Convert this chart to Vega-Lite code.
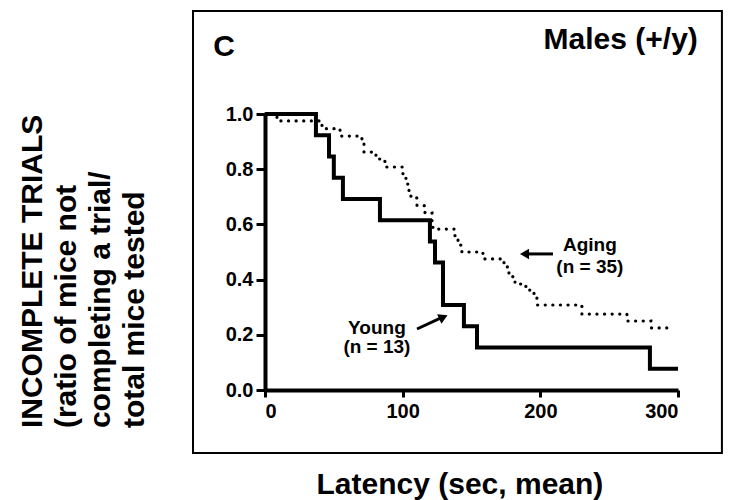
{
  "$schema": "https://vega.github.io/schema/vega-lite/v6.json",
  "padding": {"left": 18, "top": 10, "right": 0, "bottom": 0},
  "width": 413,
  "height": 276,
  "background": "white",
  "config": {
    "view": {"stroke": null},
    "text": {"font": "Liberation Sans", "fontWeight": "bold", "color": "black"}
  },
  "datasets": {
    "young": [
      {"x": 0, "y": 1}, {"x": 37, "y": 0.923}, {"x": 46.5, "y": 0.846}, {"x": 50, "y": 0.769},
      {"x": 56.6, "y": 0.692}, {"x": 83.5, "y": 0.615}, {"x": 119.8, "y": 0.538}, {"x": 123.5, "y": 0.462},
      {"x": 129.3, "y": 0.308}, {"x": 144.5, "y": 0.231}, {"x": 154, "y": 0.154}, {"x": 279.6, "y": 0.077},
      {"x": 300, "y": 0.077}
    ],
    "aging": [
      {"x": 0, "y": 1}, {"x": 8.7, "y": 0.975}, {"x": 41.4, "y": 0.947}, {"x": 54.5, "y": 0.92},
      {"x": 70.4, "y": 0.891}, {"x": 71.9, "y": 0.862}, {"x": 80.6, "y": 0.837}, {"x": 87.1, "y": 0.808},
      {"x": 100.2, "y": 0.775}, {"x": 102.4, "y": 0.746}, {"x": 104.6, "y": 0.721}, {"x": 106, "y": 0.696},
      {"x": 110.4, "y": 0.668}, {"x": 116.2, "y": 0.641}, {"x": 121.3, "y": 0.612}, {"x": 122, "y": 0.583},
      {"x": 138, "y": 0.554}, {"x": 140.2, "y": 0.525}, {"x": 143, "y": 0.5}, {"x": 158.3, "y": 0.475},
      {"x": 173.6, "y": 0.446}, {"x": 177.2, "y": 0.424}, {"x": 180, "y": 0.406}, {"x": 181.6, "y": 0.384},
      {"x": 189.5, "y": 0.362}, {"x": 195.4, "y": 0.337}, {"x": 197.5, "y": 0.308}, {"x": 230.2, "y": 0.275},
      {"x": 262.9, "y": 0.25}, {"x": 280.3, "y": 0.225}, {"x": 296, "y": 0.225}
    ]
  },
  "layer": [
    {"data": {"values": [{}]},
     "mark": {"type": "rect", "fill": null, "fillOpacity": 0, "stroke": "black", "strokeWidth": 2},
     "encoding": {"x": {"datum": -52.3, "type": "quantitative", "axis": {"title": null}}, "x2": {"datum": 331.9},
                  "y": {"datum": -0.228, "type": "quantitative", "axis": {"title": null}}, "y2": {"datum": 1.373}}},
    {
      "data": {"name": "aging"},
      "mark": {"type": "line", "interpolate": "step-after", "color": "black", "strokeWidth": 3.2, "strokeDash": [0.1, 7.5], "strokeCap": "round"},
      "encoding": {
        "x": {"field": "x", "type": "quantitative", "scale": {"domain": [0, 300], "nice": false, "zero": false},
          "axis": {"values": [0, 100, 200, 300], "format": "d", "tickSize": 7, "labelPadding": 4, "grid": false, "title": null,
            "domainColor": "black", "tickColor": "black", "labelColor": "black",
            "labelFont": "Liberation Sans", "labelFontWeight": "bold", "labelFontSize": 20, "domainWidth": 4, "tickWidth": 3}},
        "y": {"field": "y", "type": "quantitative", "scale": {"domain": [0, 1], "nice": false, "zero": false},
          "axis": {"values": [0, 0.2, 0.4, 0.6, 0.8, 1.0], "format": ".1f", "tickSize": 9, "labelPadding": 3, "grid": false, "title": null,
            "domainColor": "black", "tickColor": "black", "labelColor": "black",
            "labelFont": "Liberation Sans", "labelFontWeight": "bold", "labelFontSize": 20, "domainWidth": 4, "tickWidth": 3}}
      }
    },
    {
      "data": {"name": "young"},
      "mark": {"type": "line", "interpolate": "step-after", "color": "black", "strokeWidth": 4},
      "encoding": {
        "x": {"field": "x", "type": "quantitative", "axis": {"title": null}},
        "y": {"field": "y", "type": "quantitative", "axis": {"title": null}}
      }
    },
    {"data": {"values": [{}]},
     "mark": {"type": "text", "text": ["INCOMPLETE TRIALS", "(ratio of mice not", "completing a trial/", "total mice tested"],
              "angle": 270, "lineHeight": 34, "fontSize": 30, "align": "left", "baseline": "top"},
     "encoding": {"x": {"datum": -179.4, "type": "quantitative", "axis": {"title": null}},
                  "y": {"datum": -0.138, "type": "quantitative", "axis": {"title": null}}}},
    {"data": {"values": [{}]},
     "mark": {"type": "text", "text": "Latency (sec, mean)", "fontSize": 30, "align": "center", "baseline": "alphabetic"},
     "encoding": {"x": {"datum": 141.6, "type": "quantitative", "axis": {"title": null}},
                  "y": {"datum": -0.377, "type": "quantitative", "axis": {"title": null}}}},
    {"data": {"values": [{}]},
     "mark": {"type": "text", "text": "C", "fontSize": 30, "align": "center", "baseline": "alphabetic"},
     "encoding": {"x": {"datum": -29.8, "type": "quantitative", "axis": {"title": null}},
                  "y": {"datum": 1.21, "type": "quantitative", "axis": {"title": null}}}},
    {"data": {"values": [{}]},
     "mark": {"type": "text", "text": "Males (+/y)", "fontSize": 30, "align": "right", "baseline": "alphabetic"},
     "encoding": {"x": {"datum": 314.4, "type": "quantitative", "axis": {"title": null}},
                  "y": {"datum": 1.236, "type": "quantitative", "axis": {"title": null}}}},
    {"data": {"values": [{}]},
     "mark": {"type": "text", "text": ["Aging", "(n = 35)"], "lineHeight": 22, "fontSize": 19, "align": "center", "baseline": "alphabetic"},
     "encoding": {"x": {"datum": 236, "type": "quantitative", "axis": {"title": null}},
                  "y": {"datum": 0.504, "type": "quantitative", "axis": {"title": null}}}},
    {"data": {"values": [{}]},
     "mark": {"type": "text", "text": ["Young", "(n = 13)"], "lineHeight": 19, "fontSize": 19, "align": "center", "baseline": "alphabetic"},
     "encoding": {"x": {"datum": 81.3, "type": "quantitative", "axis": {"title": null}},
                  "y": {"datum": 0.203, "type": "quantitative", "axis": {"title": null}}}},
    {"data": {"values": [{}]},
     "mark": {"type": "rule", "color": "black", "strokeWidth": 3},
     "encoding": {"x": {"datum": 209.2, "type": "quantitative", "axis": {"title": null}}, "x2": {"datum": 190},
                  "y": {"datum": 0.493, "type": "quantitative", "axis": {"title": null}}}},
    {"data": {"values": [{}]},
     "mark": {"type": "point", "shape": "triangle-left", "filled": true, "color": "black", "opacity": 1, "size": 110},
     "encoding": {"x": {"datum": 188.5, "type": "quantitative", "axis": {"title": null}},
                  "y": {"datum": 0.493, "type": "quantitative", "axis": {"title": null}}}},
    {"data": {"values": [{}]},
     "mark": {"type": "rule", "color": "black", "strokeWidth": 3},
     "encoding": {"x": {"datum": 110.4, "type": "quantitative", "axis": {"title": null}}, "x2": {"datum": 127.8},
                  "y": {"datum": 0.221, "type": "quantitative", "axis": {"title": null}}, "y2": {"datum": 0.261}}},
    {"data": {"values": [{}]},
     "mark": {"type": "point", "shape": "triangle-right", "angle": -24, "filled": true, "color": "black", "opacity": 1, "size": 110},
     "encoding": {"x": {"datum": 129.6, "type": "quantitative", "axis": {"title": null}},
                  "y": {"datum": 0.264, "type": "quantitative", "axis": {"title": null}}}}
  ]
}
